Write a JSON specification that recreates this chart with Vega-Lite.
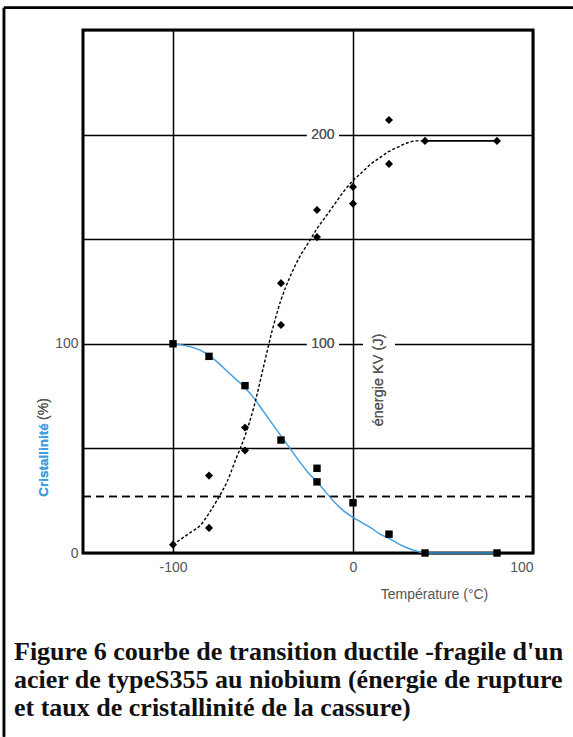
{
  "$schema": "https://vega.github.io/schema/vega-lite/v6.json",
  "autosize": {"type": "none"},
  "padding": {"left": 83, "top": 30, "right": 40, "bottom": 184},
  "width": 450,
  "height": 523,
  "background": "white",
  "config": {
    "view": {"stroke": "black", "strokeWidth": 3},
    "axis": {"labelFont": "Liberation Sans", "labelFontSize": 14, "labelColor": "#555555", "titleFont": "Liberation Sans"}
  },
  "title": {
    "text": ["Figure 6 courbe de transition ductile -fragile d'un", "acier de typeS355 au niobium (énergie de rupture", "et taux de cristallinité de la cassure)"],
    "orient": "bottom",
    "anchor": "start",
    "frame": "group",
    "dx": -69,
    "offset": -99,
    "font": "Liberation Serif",
    "fontWeight": "bold",
    "fontSize": 26,
    "lineHeight": 28,
    "color": "#111111"
  },
  "datasets": {
    "energy_pts": [
      {"T": -100, "E": 4}, {"T": -80, "E": 12}, {"T": -80, "E": 37},
      {"T": -60, "E": 49}, {"T": -60, "E": 60}, {"T": -40, "E": 109},
      {"T": -40, "E": 129}, {"T": -20, "E": 151}, {"T": -20, "E": 164},
      {"T": 0, "E": 167}, {"T": 0, "E": 175}, {"T": 20, "E": 186},
      {"T": 20, "E": 207}, {"T": 40, "E": 197}, {"T": 80, "E": 197}
    ],
    "energy_curve": [
      {"T": -100, "E": 4}, {"T": -95, "E": 7}, {"T": -90, "E": 10},
      {"T": -85, "E": 13}, {"T": -80, "E": 19}, {"T": -75, "E": 26},
      {"T": -70, "E": 34}, {"T": -65, "E": 45}, {"T": -60, "E": 56},
      {"T": -55, "E": 70}, {"T": -50, "E": 88}, {"T": -45, "E": 106},
      {"T": -40, "E": 121}, {"T": -35, "E": 132}, {"T": -30, "E": 141},
      {"T": -25, "E": 148}, {"T": -20, "E": 155}, {"T": -15, "E": 161},
      {"T": -10, "E": 167}, {"T": -5, "E": 173}, {"T": 0, "E": 178},
      {"T": 5, "E": 182}, {"T": 10, "E": 186}, {"T": 15, "E": 189},
      {"T": 20, "E": 192}, {"T": 25, "E": 194}, {"T": 30, "E": 196},
      {"T": 35, "E": 197}, {"T": 40, "E": 197}
    ],
    "energy_plateau": [{"T": 40, "E": 197}, {"T": 80, "E": 197}],
    "crist_pts": [
      {"T": -100, "C": 100}, {"T": -80, "C": 94}, {"T": -60, "C": 80},
      {"T": -40, "C": 54}, {"T": -20, "C": 40.5}, {"T": -20, "C": 34},
      {"T": 0, "C": 24}, {"T": 20, "C": 9}, {"T": 40, "C": 0}, {"T": 80, "C": 0}
    ],
    "crist_curve": [
      {"T": -100, "C": 100}, {"T": -95, "C": 99.5}, {"T": -90, "C": 98.5},
      {"T": -85, "C": 97}, {"T": -80, "C": 94.5}, {"T": -75, "C": 91},
      {"T": -70, "C": 87}, {"T": -65, "C": 83}, {"T": -60, "C": 79},
      {"T": -55, "C": 74}, {"T": -50, "C": 68}, {"T": -45, "C": 62},
      {"T": -40, "C": 56}, {"T": -35, "C": 50}, {"T": -30, "C": 44},
      {"T": -25, "C": 38.5}, {"T": -20, "C": 34}, {"T": -15, "C": 29},
      {"T": -10, "C": 24}, {"T": -5, "C": 20}, {"T": 0, "C": 17},
      {"T": 5, "C": 14.5}, {"T": 10, "C": 12}, {"T": 15, "C": 9},
      {"T": 20, "C": 7}, {"T": 25, "C": 4.5}, {"T": 30, "C": 2.5},
      {"T": 35, "C": 1}, {"T": 40, "C": 0}, {"T": 80, "C": 0}
    ]
  },
  "encoding": {
    "x": {"type": "quantitative", "scale": {"domain": [-150, 100], "nice": false, "zero": false}},
    "y": {"type": "quantitative", "scale": {"domain": [0, 250], "nice": false, "zero": false}}
  },
  "layer": [
    {
      "data": {"name": "energy_plateau"},
      "mark": {"type": "rule", "stroke": "black", "strokeWidth": 2.5},
      "encoding": {
        "x": {"datum": -193.9, "type": "quantitative", "axis": {
          "values": [-100, 0, 100], "grid": true, "gridColor": "black", "gridWidth": 1.5,
          "domain": false, "ticks": false, "labelPadding": 7,
          "labelExpr": "datum.value < 0 ? '-' + abs(datum.value) : datum.label",
          "title": "Température (°C)", "titleFontSize": 14, "titleFontWeight": "normal",
          "titleColor": "#555555", "titleX": 351, "titleY": 41, "titleAlign": "center", "titleBaseline": "middle"
        }},
        "y": {"datum": -87.8, "type": "quantitative", "axis": {
          "values": [0, 50, 100, 150, 200, 250], "grid": true, "gridColor": "black", "gridWidth": 1.5,
          "domain": false, "ticks": false, "labelPadding": 5,
          "labelExpr": "datum.value == 0 || datum.value == 100 ? datum.label : ''",
          "title": null
        }},
        "y2": {"datum": 260.6}
      }
    },
    {
      "data": {"name": "energy_plateau"},
      "mark": {"type": "rule", "stroke": "black", "strokeWidth": 2.5},
      "encoding": {
        "x": {"datum": -193.9, "type": "quantitative"},
        "x2": {"datum": 122.2},
        "y": {"datum": 260.6, "type": "quantitative"}
      }
    },
    {
      "data": {"name": "energy_plateau"},
      "mark": {"type": "rect", "fill": "white"},
      "encoding": {
        "x": {"datum": -25.6, "type": "quantitative"}, "x2": {"datum": -7.8},
        "y": {"datum": 196.2, "type": "quantitative"}, "y2": {"datum": 203.8}
      }
    },
    {
      "data": {"name": "energy_plateau"},
      "mark": {"type": "rect", "fill": "white"},
      "encoding": {
        "x": {"datum": -25.6, "type": "quantitative"}, "x2": {"datum": -7.8},
        "y": {"datum": 96.2, "type": "quantitative"}, "y2": {"datum": 103.8}
      }
    },
    {
      "data": {"name": "energy_plateau"},
      "mark": {"type": "rect", "fill": "white"},
      "encoding": {
        "x": {"datum": 5.6, "type": "quantitative"}, "x2": {"datum": 23.3},
        "y": {"datum": 57.8, "type": "quantitative"}, "y2": {"datum": 107.5}
      }
    },
    {
      "data": {"name": "energy_plateau"},
      "mark": {"type": "rule", "stroke": "black", "strokeWidth": 1.6, "strokeDash": [8, 5]},
      "encoding": {"y": {"datum": 27, "type": "quantitative"}}
    },
    {
      "data": {"name": "energy_plateau"},
      "mark": {"type": "text", "text": "200", "font": "Liberation Sans", "fontSize": 14, "fill": "#555555", "align": "center", "baseline": "middle"},
      "encoding": {"x": {"datum": -16.7, "type": "quantitative"}, "y": {"datum": 200, "type": "quantitative"}}
    },
    {
      "data": {"name": "energy_plateau"},
      "mark": {"type": "text", "text": "100", "font": "Liberation Sans", "fontSize": 14, "fill": "#555555", "align": "center", "baseline": "middle"},
      "encoding": {"x": {"datum": -16.7, "type": "quantitative"}, "y": {"datum": 100, "type": "quantitative"}}
    },
    {
      "data": {"name": "energy_plateau"},
      "mark": {"type": "text", "text": "énergie KV (J)", "font": "Liberation Sans", "fontSize": 14.5, "fill": "#555555", "align": "center", "baseline": "middle", "angle": 270},
      "encoding": {"x": {"datum": 14.4, "type": "quantitative"}, "y": {"datum": 82.7, "type": "quantitative"}}
    },
    {
      "data": {"name": "energy_plateau"},
      "mark": {"type": "text", "text": "Cristallinité", "font": "Liberation Sans", "fontWeight": "bold", "fontSize": 13.5, "fill": "#3d9de0", "align": "center", "baseline": "middle", "angle": 270},
      "encoding": {"x": {"datum": -171.7, "type": "quantitative"}, "y": {"datum": 44.5, "type": "quantitative"}}
    },
    {
      "data": {"name": "energy_plateau"},
      "mark": {"type": "text", "text": "(%)", "font": "Liberation Sans", "fontSize": 14, "fill": "#555555", "align": "center", "baseline": "middle", "angle": 270},
      "encoding": {"x": {"datum": -171.7, "type": "quantitative"}, "y": {"datum": 68.8, "type": "quantitative"}}
    },
    {
      "data": {"name": "crist_curve"},
      "mark": {"type": "line", "stroke": "#3d9de0", "strokeWidth": 1.4, "interpolate": "monotone"},
      "encoding": {"x": {"field": "T", "type": "quantitative"}, "y": {"field": "C", "type": "quantitative"}}
    },
    {
      "data": {"name": "energy_curve"},
      "mark": {"type": "line", "stroke": "black", "strokeWidth": 1.4, "strokeDash": [3, 2], "interpolate": "monotone"},
      "encoding": {"x": {"field": "T", "type": "quantitative"}, "y": {"field": "E", "type": "quantitative"}}
    },
    {
      "data": {"name": "energy_plateau"},
      "mark": {"type": "line", "stroke": "black", "strokeWidth": 1.6},
      "encoding": {"x": {"field": "T", "type": "quantitative"}, "y": {"field": "E", "type": "quantitative"}}
    },
    {
      "data": {"name": "crist_pts"},
      "mark": {"type": "point", "shape": "square", "filled": true, "fill": "black", "opacity": 1, "size": 55},
      "encoding": {"x": {"field": "T", "type": "quantitative"}, "y": {"field": "C", "type": "quantitative"}}
    },
    {
      "data": {"name": "energy_pts"},
      "mark": {"type": "point", "shape": "diamond", "filled": true, "fill": "black", "opacity": 1, "size": 65},
      "encoding": {"x": {"field": "T", "type": "quantitative"}, "y": {"field": "E", "type": "quantitative"}}
    }
  ]
}
